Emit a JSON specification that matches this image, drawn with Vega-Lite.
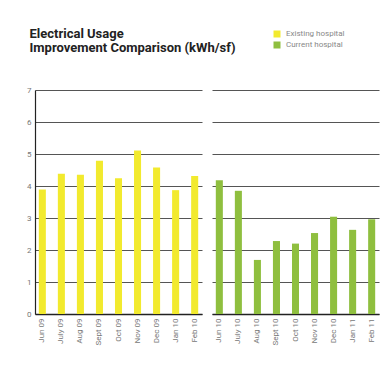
{
  "$schema": "https://vega.github.io/schema/vega-lite/v6.json",
  "padding": {"left": 26, "top": 28, "right": 5, "bottom": 5},
  "background": "white",
  "title": {
    "text": ["Electrical Usage", "Improvement Comparison (kWh/sf)"],
    "anchor": "start",
    "frame": "bounds",
    "font": "Roboto",
    "fontSize": 13,
    "fontWeight": "bold",
    "color": "#222222",
    "lineHeight": 14,
    "offset": -25,
    "dx": 3
  },
  "datasets": {
    "existing": [
      {"month": "Jun 09", "kwh": 3.89, "hospital": "Existing hospital"},
      {"month": "July 09", "kwh": 4.38, "hospital": "Existing hospital"},
      {"month": "Aug 09", "kwh": 4.35, "hospital": "Existing hospital"},
      {"month": "Sept 09", "kwh": 4.79, "hospital": "Existing hospital"},
      {"month": "Oct 09", "kwh": 4.24, "hospital": "Existing hospital"},
      {"month": "Nov 09", "kwh": 5.11, "hospital": "Existing hospital"},
      {"month": "Dec 09", "kwh": 4.58, "hospital": "Existing hospital"},
      {"month": "Jan 10", "kwh": 3.87, "hospital": "Existing hospital"},
      {"month": "Feb 10", "kwh": 4.31, "hospital": "Existing hospital"}
    ],
    "current": [
      {"month": "Jun 10", "kwh": 4.18, "hospital": "Current hospital"},
      {"month": "July 10", "kwh": 3.85, "hospital": "Current hospital"},
      {"month": "Aug 10", "kwh": 1.69, "hospital": "Current hospital"},
      {"month": "Sept 10", "kwh": 2.28, "hospital": "Current hospital"},
      {"month": "Oct 10", "kwh": 2.2, "hospital": "Current hospital"},
      {"month": "Nov 10", "kwh": 2.53, "hospital": "Current hospital"},
      {"month": "Dec 10", "kwh": 3.04, "hospital": "Current hospital"},
      {"month": "Jan 11", "kwh": 2.63, "hospital": "Current hospital"},
      {"month": "Feb 11", "kwh": 2.96, "hospital": "Current hospital"}
    ]
  },
  "spacing": 10,
  "hconcat": [
    {
      "width": 167,
      "height": 224,
      "data": {"name": "existing"},
      "mark": {"type": "bar"},
      "encoding": {
        "x": {
          "field": "month", "type": "nominal", "sort": null,
          "scale": {"paddingInner": 0.63, "paddingOuter": 0.2},
          "axis": {"title": null, "labelAngle": -90, "ticks": false, "labelPadding": 4}
        },
        "y": {
          "field": "kwh", "type": "quantitative",
          "scale": {"domain": [0, 7], "nice": false},
          "axis": {"title": null, "values": [0,1,2,3,4,5,6,7], "domain": true, "domainColor": "#222222", "domainWidth": 1.2, "ticks": false, "labelPadding": 4, "grid": true}
        },
        "color": {
          "field": "hospital", "type": "nominal",
          "scale": {"domain": ["Existing hospital", "Current hospital"], "range": ["#f2ea2e", "#8fbf3f"]},
          "legend": {
            "title": null, "orient": "none", "legendX": 238, "legendY": -60,
            "symbolType": "square", "symbolSize": 49, "symbolStrokeWidth": 0,
            "labelFont": "Roboto", "labelFontSize": 8, "labelColor": "#888888",
            "rowPadding": 3, "labelOffset": 5
          }
        }
      }
    },
    {
      "width": 167,
      "height": 224,
      "data": {"name": "current"},
      "mark": {"type": "bar"},
      "encoding": {
        "x": {
          "field": "month", "type": "nominal", "sort": null,
          "scale": {"paddingInner": 0.63, "paddingOuter": 0.2},
          "axis": {"title": null, "labelAngle": -90, "ticks": false, "labelPadding": 4}
        },
        "y": {
          "field": "kwh", "type": "quantitative",
          "scale": {"domain": [0, 7], "nice": false},
          "axis": {"title": null, "values": [0,1,2,3,4,5,6,7], "domain": false, "labels": false, "ticks": false, "grid": true}
        },
        "color": {
          "field": "hospital", "type": "nominal",
          "scale": {"domain": ["Existing hospital", "Current hospital"], "range": ["#f2ea2e", "#8fbf3f"]}
        }
      }
    }
  ],
  "config": {
    "view": {"stroke": null},
    "font": "Roboto",
    "axis": {
      "labelFont": "Roboto",
      "labelFontSize": 8,
      "labelColor": "#777777",
      "gridColor": "#555555",
      "gridWidth": 1,
      "gridOpacity": 1,
      "domainColor": "#222222",
      "domainWidth": 1.5
    }
  }
}
